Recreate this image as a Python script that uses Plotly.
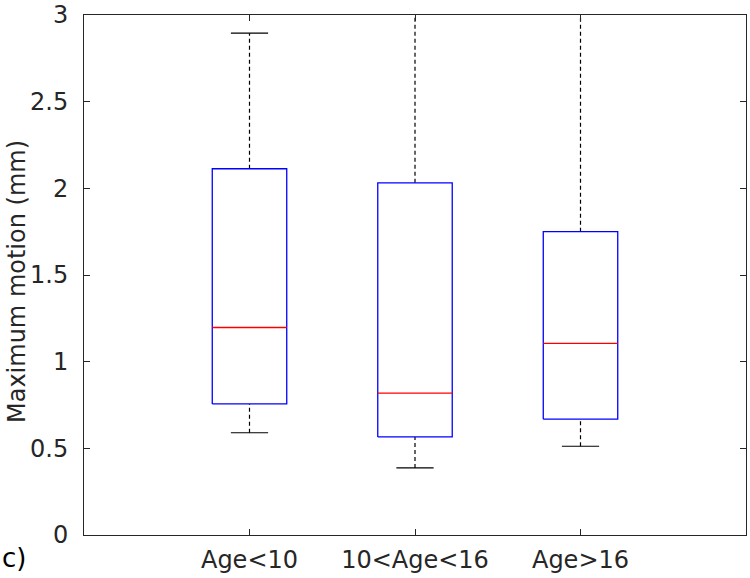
import plotly.graph_objects as go

categories = ["Age<10", "10<Age<16", "Age>16"]
lower_whisker = [0.59, 0.387, 0.512]
q1 = [0.756, 0.566, 0.668]
median = [1.197, 0.819, 1.105]
q3 = [2.113, 2.032, 1.750]
upper_whisker = [2.895, 3.4, 3.4]
yticks = [0, 0.5, 1, 1.5, 2, 2.5, 3]

BOX_W = 0.45
CAP_W = BOX_W / 2
BLUE = "#0000FF"
RED = "#FF0000"
BLACK = "#000000"
AXIS = "#262626"
FONT = "DejaVu Sans"

L, R, T, B = 84, 4, 15, 43
PW, PH = 750 - L - R, 578 - T - B

fig = go.Figure()

def line(xs, ys, color, dash="solid", width=1.3):
    fig.add_trace(go.Scatter(x=xs, y=ys, mode="lines",
                             line=dict(color=color, width=width, dash=dash),
                             showlegend=False, hoverinfo="skip"))

for i, name in enumerate(categories):
    x = i + 1
    # whiskers
    line([x, x], [q3[i], upper_whisker[i]], BLACK, dash="4px,3px", width=1.2)
    line([x, x], [lower_whisker[i], q1[i]], BLACK, dash="4px,3px", width=1.2)
    # caps
    line([x - CAP_W / 2, x + CAP_W / 2], [upper_whisker[i]] * 2, BLACK, width=1.2)
    line([x - CAP_W / 2, x + CAP_W / 2], [lower_whisker[i]] * 2, BLACK, width=1.2)
    # box
    line([x - BOX_W / 2, x + BOX_W / 2, x + BOX_W / 2, x - BOX_W / 2, x - BOX_W / 2],
         [q1[i], q1[i], q3[i], q3[i], q1[i]], BLUE)
    # median
    line([x - BOX_W / 2, x + BOX_W / 2], [median[i]] * 2, RED)

fig.update_layout(
    width=750, height=578,
    margin=dict(l=L, r=R, t=T, b=B, autoexpand=False),
    paper_bgcolor="white", plot_bgcolor="white",
    font=dict(family=FONT, size=24, color=AXIS),
    showlegend=False,
    xaxis=dict(range=[0, 4], tickvals=[1, 2, 3], ticktext=categories,
               showgrid=False, zeroline=False, showline=True, linecolor=AXIS,
               linewidth=1, mirror="ticks", ticks="inside", ticklen=6,
               tickcolor=AXIS, ticklabelstandoff=3, automargin=False,
               tickfont=dict(family=FONT, size=24, color=AXIS)),
    yaxis=dict(range=[0, 3], tickvals=yticks,
               ticktext=[("%g" % v) for v in yticks],
               showgrid=False, zeroline=False, showline=True, linecolor=AXIS,
               linewidth=1, mirror="ticks", ticks="inside", ticklen=6,
               tickcolor=AXIS, ticklabelstandoff=10, automargin=False,
               tickfont=dict(family=FONT, size=24, color=AXIS)),
    annotations=[
        dict(text="Maximum motion (mm)", xref="paper", yref="paper",
             x=-(L - 17) / PW, y=(535 - 282) / PH, textangle=-90,
             xanchor="center", yanchor="middle", showarrow=False,
             font=dict(family=FONT, size=24, color=AXIS)),
        dict(text="c)", xref="paper", yref="paper", x=-L / PW, y=-B / PH + 0.005,
             xanchor="left", yanchor="bottom", showarrow=False,
             font=dict(family=FONT, size=26, color="#000000")),
    ],
)

fig.write_html("out.html", config={"displayModeBar": False},
               post_script="document.body.style.margin='0';document.body.style.overflow='hidden';")
